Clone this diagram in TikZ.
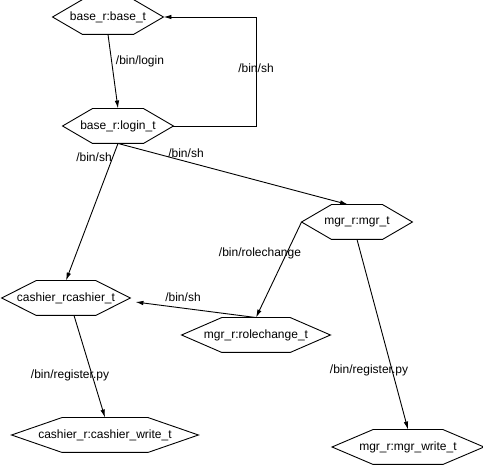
\documentclass[tikz,border=0pt]{standalone}
\usepackage{fontspec}
\setmainfont{Liberation Sans}
\usetikzlibrary{arrows.meta,calc}

\begin{document}
\begin{tikzpicture}[
  x=1pt,y=-1pt,
  >={Latex[length=8pt,width=4.5pt]},
  every node/.style={font=\fontsize{12}{14}\selectfont},
  hexa/.style={inner sep=0pt,minimum height=34pt},
  lbl/.style={inner sep=0pt},
  edge/.style={->,line width=0.9pt},
  line width=0.9pt
]
\useasboundingbox (0,0) rectangle (483,465);

%% role nodes
\node[hexa,minimum width=110pt] (base)   at (108,17)  {base\_r:base\_t};
\node[hexa,minimum width=110pt] (login)  at (118,126) {base\_r:login\_t};
\node[hexa,minimum width=110pt] (mgr)    at (357,222) {mgr\_r:mgr\_t};
\node[hexa,minimum width=128pt] (cashier) at (66,298) {cashier\_rcashier\_t};
\node[hexa,minimum width=148pt] (role)   at (256,335) {mgr\_r:rolechange\_t};
\node[hexa,minimum width=186pt] (cwrite) at (105,435) {cashier\_r:cashier\_write\_t};
\node[hexa,minimum width=151pt] (mwrite) at (408,447) {mgr\_r:mgr\_write\_t};

%% hexagon outlines
\foreach \n in {base,login,mgr,cashier,role,cwrite,mwrite}
  \draw (\n.west) -- ($(\n.north west)!0.27!(\n.north east)$)
        -- ($(\n.north west)!0.73!(\n.north east)$) -- (\n.east)
        -- ($(\n.south west)!0.73!(\n.south east)$)
        -- ($(\n.south west)!0.27!(\n.south east)$) -- cycle;

%% transitions
\draw[edge] (base.south) -- (login.north);
\draw[edge] (login.east) -- ++(83,0) |- (base.east);
\draw[edge] (login.south) -- (cashier.north);
\draw[edge] (login.south) -- ([xshift=-9pt]mgr.north);
\draw[edge] (mgr.west) -- (role.north);
\draw[edge] (role.north) -- ([xshift=5pt,yshift=-4pt]cashier.east);
\draw[edge] ([xshift=8pt]cashier.south) -- (cwrite.north);
\draw[edge] (mgr.south) -- (mwrite.north);

%% edge labels
\node[lbl] (lLogin)  at (140,61)  {/bin/login};
\node[lbl] (lBack)   at (256,68)  {/bin/sh};
\node[lbl] (lCash)   at (94,157)  {/bin/sh};
\node[lbl] (lMgr)    at (186,153) {/bin/sh};
\node[lbl] (lRole)   at (260,253) {/bin/rolechange};
\node[lbl] (lRoleSh) at (183,297) {/bin/sh};
\node[lbl] (lRegC)   at (70,375)  {/bin/register.py};
\node[lbl] (lRegM)   at (369,370) {/bin/register.py};

\end{tikzpicture}
\end{document}
